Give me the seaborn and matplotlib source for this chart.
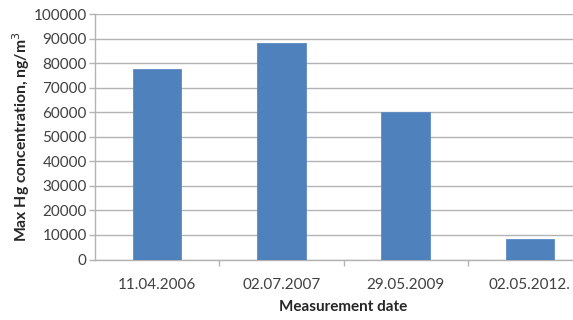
import matplotlib
matplotlib.use("Agg")
import matplotlib.pyplot as plt
import seaborn as sns
import pandas as pd
from matplotlib.ticker import FixedLocator

dates = ["11.04.2006", "02.07.2007", "29.05.2009", "02.05.2012."]
max_hg = [77600, 88100, 60000, 8500]
y_ticks = [0, 10000, 20000, 30000, 40000, 50000, 60000, 70000, 80000, 90000, 100000]

df = pd.DataFrame({"date": dates, "hg": max_hg})

sns.set_theme(style="white")
plt.rcParams["font.family"] = ["Lato", "DejaVu Sans"]

fig = plt.figure(figsize=(5.73, 3.2), dpi=100)
ax = fig.add_axes([95 / 573, (320 - 259.5) / 320, (592 - 95) / 573, (259.5 - 14) / 320])

sns.barplot(data=df, x="date", y="hg", color="#4F81BD", saturation=1,
            width=0.39, ax=ax, zorder=3, edgecolor="#5A8AC4", linewidth=0.6)

grid_c = "#B3B3B3"
ax.set_ylim(0, 100000)
ax.set_xlim(-0.5, 3.5)
ax.set_yticks(y_ticks)
ax.set_yticklabels([str(v) for v in y_ticks])
ax.yaxis.grid(True, color=grid_c, linewidth=1.0, zorder=0)
ax.set_axisbelow(True)

for s in ["top", "right"]:
    ax.spines[s].set_visible(False)
for s in ["left", "bottom"]:
    ax.spines[s].set_color(grid_c)
    ax.spines[s].set_linewidth(1.0)

ax.tick_params(axis="y", which="major", length=4, width=1.0, color=grid_c,
               labelsize=11, labelcolor="#404040", pad=2, left=True)
ax.tick_params(axis="x", which="major", length=0, labelsize=11,
               labelcolor="#404040", pad=13)
ax.xaxis.set_minor_locator(FixedLocator([0.5, 1.5, 2.5]))
ax.tick_params(axis="x", which="minor", length=4, width=1.0, color=grid_c,
               bottom=True)

ax.set_xlabel("Measurement date", fontsize=11, fontweight="bold",
              color="#262626", labelpad=6)
ax.set_ylabel("Max Hg concentration, ng/m$^3$", fontsize=11.3, fontweight="bold",
              color="#262626", labelpad=1)

fig.savefig("out.png", dpi=100)
